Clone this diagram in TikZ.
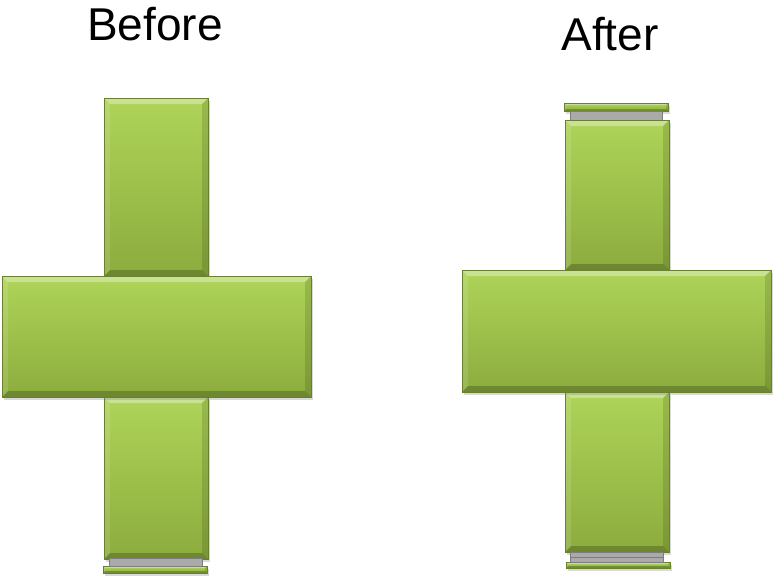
\documentclass[tikz,border=0pt]{standalone}
\usepackage{fontspec}
\setmainfont{Liberation Sans}
\usetikzlibrary{shadows}
\definecolor{bartop}{RGB}{174,212,88}
\definecolor{barbot}{RGB}{140,172,62}
\definecolor{gapfill}{RGB}{170,170,170}
\definecolor{gapline}{RGB}{125,125,125}

\begin{document}
\begin{tikzpicture}[x=1pt,y=-1pt,
  bar/.style={top color=bartop, bottom color=barbot, draw=barbot!75!black, line width=0.5pt,
    inner sep=0pt, outer sep=0pt,
    drop shadow={shadow xshift=1.5pt, shadow yshift=-2.5pt, opacity=0.3},
    path picture={
      \fill[white, opacity=0.35] (path picture bounding box.north west) -- (path picture bounding box.north east)
        -- ([shift={(-#1,-#1)}]path picture bounding box.north east) -- ([shift={(#1,-#1)}]path picture bounding box.north west) -- cycle;
      \fill[black, opacity=0.22] (path picture bounding box.south west) -- (path picture bounding box.south east)
        -- ([shift={(-#1,#1)}]path picture bounding box.south east) -- ([shift={(#1,#1)}]path picture bounding box.south west) -- cycle;
      \fill[white, opacity=0.12] (path picture bounding box.north west) -- (path picture bounding box.south west)
        -- ([shift={(#1,#1)}]path picture bounding box.south west) -- ([shift={(#1,-#1)}]path picture bounding box.north west) -- cycle;
      \fill[black, opacity=0.12] (path picture bounding box.north east) -- (path picture bounding box.south east)
        -- ([shift={(-#1,#1)}]path picture bounding box.south east) -- ([shift={(-#1,-#1)}]path picture bounding box.north east) -- cycle;
    }},
  bar/.default=6pt,
  gap/.style={fill=gapfill, draw=gapline, line width=1pt, inner sep=0pt, outer sep=0pt},
  title/.style={font=\fontsize{46}{50}\selectfont, anchor=base, inner sep=0pt}]
\useasboundingbox (0,0) rectangle (774,579);

\node[title] (before) at (155,40) {Before};
\node[title] (after) at (610,50) {After};

\node[bar, minimum width=104pt, minimum height=178pt] (btop) at (156,187) {};
\node[bar, minimum width=104pt, minimum height=162pt] (bbot) at (156,478) {};
\node[bar=2pt, minimum width=104pt, minimum height=7pt] (bcap) at (155,569.5) {};
\node[gap, minimum width=93pt, minimum height=8pt] (bgap) at (155.5,562) {};
\node[bar, minimum width=309pt, minimum height=121pt] (bmid) at (156.5,336.5) {};

\node[bar=2pt, minimum width=104pt, minimum height=8pt] (acap) at (616,107) {};
\node[gap, minimum width=92pt, minimum height=9pt] (agap) at (616,115.5) {};
\node[bar, minimum width=104pt, minimum height=150pt] (atop) at (617,195) {};
\node[bar, minimum width=104pt, minimum height=160pt] (abot) at (617,472) {};
\node[bar=2pt, minimum width=104pt, minimum height=6pt] (abcap) at (618,565) {};
\node[gap, minimum width=93pt, minimum height=5pt] (abgap) at (616.5,554.5) {};
\node[gap, minimum width=93pt, minimum height=5pt] (abgap2) at (616.5,559.5) {};
\node[bar, minimum width=309pt, minimum height=122pt] (amid) at (616.5,331) {};
\end{tikzpicture}
\end{document}
